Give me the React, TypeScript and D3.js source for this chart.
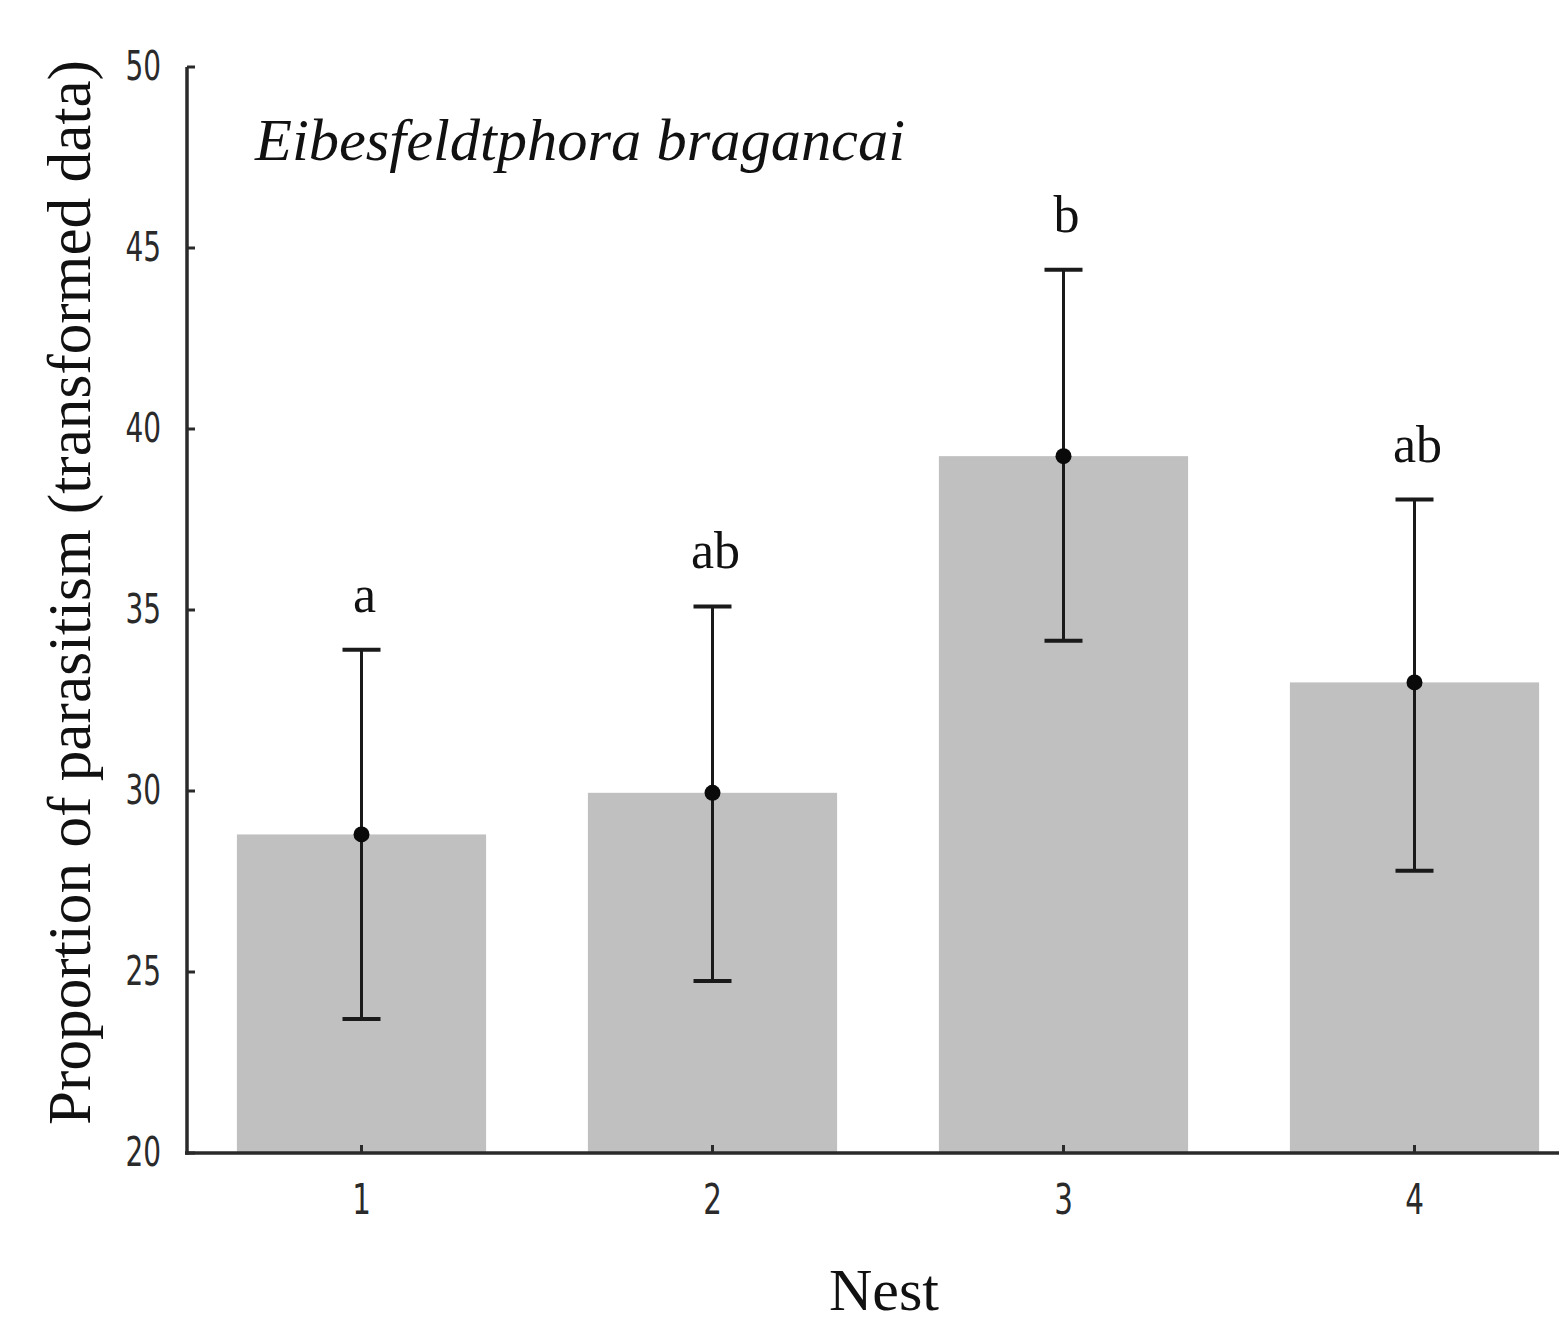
import React, { useEffect, useRef } from 'react'
import * as d3 from 'd3'

const nests = ['1', '2', '3', '4']
const means = [28.8, 29.95, 39.25, 33.0]
const lower = [23.7, 24.75, 34.15, 27.8]
const upper = [33.9, 35.1, 44.4, 38.05]
const groups = ['a', 'ab', 'b', 'ab']
const yTicks = [20, 25, 30, 35, 40, 45, 50]

export default function App() {
  const ref = useRef<SVGSVGElement>(null)

  useEffect(() => {
    const svg = d3.select(ref.current)
    svg.selectAll('*').remove()

    const x = d3.scaleBand().domain(nests).range([186, 1590]).padding(0)
    const y = d3.scaleLinear().domain([20, 50]).range([1153, 67])
    const barW = x.bandwidth() * 0.71
    const cx = (d: string) => (x(d) as number) + x.bandwidth() / 2

    const data = nests.map((n, i) => ({
      nest: n, mean: means[i], lo: lower[i], hi: upper[i], grp: groups[i]
    }))

    // bars
    svg.append('g').selectAll('rect')
      .data(data)
      .enter().append('rect')
      .attr('x', d => cx(d.nest) - barW / 2)
      .attr('y', d => y(d.mean))
      .attr('width', barW)
      .attr('height', d => y(20) - y(d.mean))
      .attr('fill', '#c0c0c0')

    // error bars
    const err = svg.append('g').attr('stroke', '#1a1a1a')
    err.selectAll('line.v')
      .data(data)
      .enter().append('line')
      .attr('class', 'v')
      .attr('x1', d => cx(d.nest)).attr('x2', d => cx(d.nest))
      .attr('y1', d => y(d.lo)).attr('y2', d => y(d.hi))
      .attr('stroke-width', 3)
    err.selectAll('line.capHi')
      .data(data)
      .enter().append('line')
      .attr('x1', d => cx(d.nest) - 19).attr('x2', d => cx(d.nest) + 19)
      .attr('y1', d => y(d.hi)).attr('y2', d => y(d.hi))
      .attr('stroke-width', 4)
    err.selectAll('line.capLo')
      .data(data)
      .enter().append('line')
      .attr('x1', d => cx(d.nest) - 19).attr('x2', d => cx(d.nest) + 19)
      .attr('y1', d => y(d.lo)).attr('y2', d => y(d.lo))
      .attr('stroke-width', 4)

    // mean dots
    svg.append('g').selectAll('circle')
      .data(data)
      .enter().append('circle')
      .attr('cx', d => cx(d.nest))
      .attr('cy', d => y(d.mean))
      .attr('r', 8)
      .attr('fill', '#0a0a0a')

    // group letters
    svg.append('g').selectAll('text')
      .data(data)
      .enter().append('text')
      .attr('x', d => cx(d.nest) + 3)
      .attr('y', d => y(d.hi) - 38)
      .attr('text-anchor', 'middle')
      .attr('font-family', '"Liberation Serif", serif')
      .attr('font-size', 52)
      .attr('fill', '#111')
      .text(d => d.grp)

    // axes
    const axis = svg.append('g').attr('stroke', '#2a2a2a').attr('stroke-width', 3.5)
    axis.append('line')
      .attr('x1', 187).attr('x2', 187)
      .attr('y1', y(50)).attr('y2', y(20) + 1.75)
    axis.append('line')
      .attr('x1', 185).attr('x2', 1559)
      .attr('y1', y(20)).attr('y2', y(20))
    axis.selectAll('line.yt')
      .data(yTicks)
      .enter().append('line')
      .attr('x1', 187).attr('x2', 195)
      .attr('y1', d => y(d)).attr('y2', d => y(d))
      .attr('stroke-width', 3)
    axis.selectAll('line.xt')
      .data(nests)
      .enter().append('line')
      .attr('x1', d => cx(d)).attr('x2', d => cx(d))
      .attr('y1', y(20)).attr('y2', y(20) - 8)
      .attr('stroke-width', 3)

    // tick labels
    svg.append('g').selectAll('g')
      .data(yTicks)
      .enter().append('g')
      .attr('transform', d => `translate(161, ${y(d) + 13}) scale(0.7, 1)`)
      .append('text')
      .attr('text-anchor', 'end')
      .attr('font-family', '"DejaVu Sans", sans-serif')
      .attr('font-size', 40)
      .attr('fill', '#2a2a2a')
      .text(d => String(d))

    svg.append('g').selectAll('g')
      .data(nests)
      .enter().append('g')
      .attr('transform', d => `translate(${cx(d)}, 1214) scale(0.7, 1)`)
      .append('text')
      .attr('text-anchor', 'middle')
      .attr('font-family', '"DejaVu Sans", sans-serif')
      .attr('font-size', 42)
      .attr('fill', '#2a2a2a')
      .text(d => d)

    // axis titles
    svg.append('text')
      .attr('x', 884).attr('y', 1310)
      .attr('text-anchor', 'middle')
      .attr('font-family', '"Liberation Serif", serif')
      .attr('font-size', 60)
      .attr('fill', '#111')
      .text('Nest')

    svg.append('text')
      .attr('transform', 'translate(90, 1125) rotate(-90)')
      .attr('x', 0).attr('y', 0)
      .attr('textLength', 1065)
      .attr('lengthAdjust', 'spacingAndGlyphs')
      .attr('font-family', '"Liberation Serif", serif')
      .attr('font-size', 62)
      .attr('fill', '#111')
      .text('Proportion of parasitism (transformed data)')

    svg.append('text')
      .attr('x', 255).attr('y', 160)
      .attr('textLength', 650)
      .attr('lengthAdjust', 'spacingAndGlyphs')
      .attr('font-family', '"Liberation Serif", serif')
      .attr('font-style', 'italic')
      .attr('font-size', 60)
      .attr('fill', '#111')
      .text('Eibesfeldtphora bragancai')
  }, [])

  return (
    <svg ref={ref} width={1559} height={1323}
      style={{ position: 'absolute', left: 0, top: 0, background: '#fff' }} />
  )
}
